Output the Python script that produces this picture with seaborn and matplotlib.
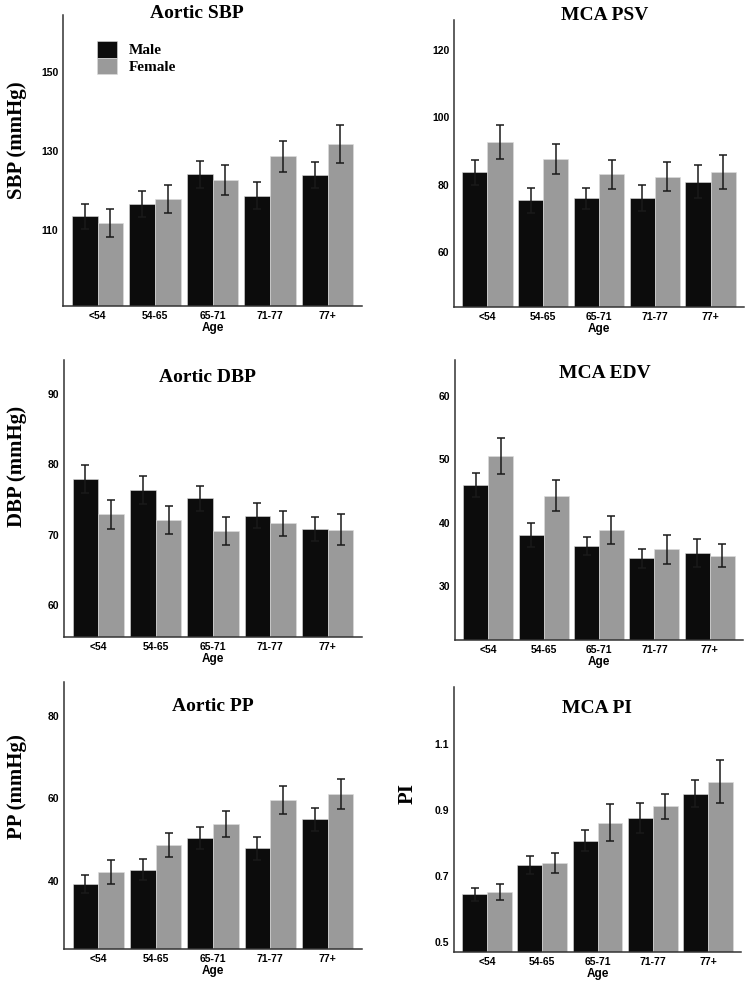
import numpy as np
import pandas as pd
import matplotlib
matplotlib.use("Agg")
import matplotlib.pyplot as plt
import seaborn as sns

# --- data ---
ages = ['<54', '54-65', '65-71', '71-77', '77+']
sexes = ['Male', 'Female']

sbp_male = [113.5, 116.5, 124.1, 118.7, 123.9]
sbp_male_se = [3.2, 3.3, 3.4, 3.4, 3.3]
sbp_female = [111.8, 117.8, 122.6, 128.7, 131.7]
sbp_female_se = [3.5, 3.6, 3.8, 3.9, 4.8]

psv_male = [83.7, 75.5, 76.1, 76.1, 81.0]
psv_male_se = [3.6, 3.7, 3.1, 3.9, 5.0]
psv_female = [92.8, 87.6, 83.1, 82.4, 83.9]
psv_female_se = [5.1, 4.5, 4.2, 4.3, 5.0]

dbp_male = [77.9, 76.3, 75.2, 72.7, 70.8]
dbp_male_se = [2.0, 2.0, 1.8, 1.8, 1.7]
dbp_female = [72.9, 72.1, 70.5, 71.6, 70.7]
dbp_female_se = [2.1, 1.95, 2.0, 1.75, 2.2]

edv_male = [45.9, 38.1, 36.3, 34.4, 35.2]
edv_male_se = [1.95, 1.9, 1.4, 1.5, 2.25]
edv_female = [50.5, 44.2, 38.8, 35.8, 34.8]
edv_female_se = [2.8, 2.45, 2.2, 2.3, 1.8]

pp_male = [39.2, 42.7, 50.4, 47.9, 54.9]
pp_male_se = [2.3, 2.55, 2.7, 2.8, 2.85]
pp_female = [42.1, 48.6, 53.8, 59.6, 61.1]
pp_female_se = [3.0, 2.9, 3.15, 3.35, 3.7]

pi_male = [0.645, 0.734, 0.808, 0.876, 0.950]
pi_male_se = [0.019, 0.027, 0.033, 0.046, 0.042]
pi_female = [0.652, 0.740, 0.862, 0.911, 0.986]
pi_female_se = [0.025, 0.031, 0.055, 0.039, 0.064]

palette = {'Male': '#0c0c0c', 'Female': '#9a9a9a'}
W, H = 750, 981

# panel settings: (title, ylabel, male, male_se, female, female_se, yticks, ylim,
#                  axes px box [x0, y0, x1, y1], title pos (axes frac), ylabel pos)
panels = [
    ('Aortic SBP', 'SBP (mmHg)', sbp_male, sbp_male_se, sbp_female, sbp_female_se,
     [110, 130, 150], (90.8, 164.4), [63, 15, 362, 306], (0.448, 0.99), (-0.154, 0.57)),
    ('MCA PSV', '', psv_male, psv_male_se, psv_female, psv_female_se,
     [60, 80, 100, 120], (43.8, 128.9), [454, 20, 744, 307], (0.52, 1.0), None),
    ('Aortic DBP', 'DBP (mmHg)', dbp_male, dbp_male_se, dbp_female, dbp_female_se,
     [60, 70, 80, 90], (55.4, 94.9), [64, 360, 362, 637], (0.48, 0.922), (-0.158, 0.617)),
    ('MCA EDV', '', edv_male, edv_male_se, edv_female, edv_female_se,
     [30, 40, 50, 60], (21.5, 65.6), [455, 360, 743, 640], (0.52, 0.935), None),
    ('Aortic PP', 'PP (mmHg)', pp_male, pp_male_se, pp_female, pp_female_se,
     [40, 60, 80], (23.4, 88.3), [64, 682, 362, 949], (0.5, 0.891), (-0.158, 0.607)),
    ('MCA PI', 'PI', pi_male, pi_male_se, pi_female, pi_female_se,
     [0.5, 0.7, 0.9, 1.1], (0.471, 1.272), [454, 687, 741, 952], (0.498, 0.903), (-0.16, 0.6)),
]

sns.set_style('white')
plt.rcParams['font.family'] = ['Liberation Sans', 'DejaVu Sans']
plt.rcParams['text.color'] = 'black'
plt.rcParams['axes.labelcolor'] = 'black'

fig = plt.figure(figsize=(W / 100, H / 100), dpi=100)
serif = ['Liberation Serif', 'DejaVu Serif']

for i, (title, ylabel, m, m_se, f, f_se, yticks, ylim, box, tpos, lpos) in enumerate(panels):
    x0, y0, x1, y1 = box
    ax = fig.add_axes([x0 / W, 1 - y1 / H, (x1 - x0) / W, (y1 - y0) / H])

    df = pd.DataFrame({
        'Age': ages * 2,
        'Sex': ['Male'] * 5 + ['Female'] * 5,
        'value': list(m) + list(f),
    })
    sns.barplot(data=df, x='Age', y='value', hue='Sex', order=ages, hue_order=sexes,
                palette=palette, errorbar=None, width=0.9, saturation=1,
                edgecolor='#dddddd', linewidth=0.4, legend=(i == 0), ax=ax)

    # error bars on top of the seaborn bars
    for cont, se in zip(ax.containers, [m_se, f_se]):
        xs = [b.get_x() + b.get_width() / 2 for b in cont]
        ys = [b.get_height() for b in cont]
        ax.errorbar(xs, ys, yerr=se, fmt='none', ecolor='#1a1a1a',
                    elinewidth=1.1, capsize=2.6, capthick=1.1, zorder=5)

    ax.set_xlim(-0.6, 4.6)
    ax.set_ylim(*ylim)
    ax.set_yticks(yticks)
    ax.set_yticklabels([f'{t:g}' for t in yticks])

    sns.despine(ax=ax)
    for s in ['left', 'bottom']:
        ax.spines[s].set_color('#333333')
        ax.spines[s].set_linewidth(1.1)
    ax.tick_params(axis='both', length=2, width=0.8, color='#333333', pad=1.5,
                   labelsize=7.5, labelcolor='black')
    for lab in ax.get_xticklabels() + ax.get_yticklabels():
        lab.set_fontweight('bold')

    ax.set_xlabel('Age', fontsize=8.5, fontweight='bold', labelpad=0.5)
    if ylabel:
        ax.set_ylabel(ylabel, fontsize=15, fontweight='bold', family=serif)
        ax.yaxis.label.set_va('center')
        ax.yaxis.set_label_coords(*lpos)
    else:
        ax.set_ylabel('')

    ax.text(tpos[0], tpos[1], title, transform=ax.transAxes, ha='center', va='baseline',
            fontsize=14, fontweight='bold', family=serif, clip_on=False)

    if i == 0:
        handles, labels = ax.get_legend_handles_labels()
        ax.legend(handles, labels, loc='upper left',
                  bbox_to_anchor=((97 - x0) / (x1 - x0), (y1 - 41) / (y1 - y0)),
                  frameon=False, borderpad=0, borderaxespad=0, labelspacing=0,
                  handlelength=1.3, handleheight=1.3, handletextpad=0.8,
                  prop={'family': serif, 'weight': 'bold', 'size': 11})

fig.savefig('out.png', dpi=100, facecolor='white')
